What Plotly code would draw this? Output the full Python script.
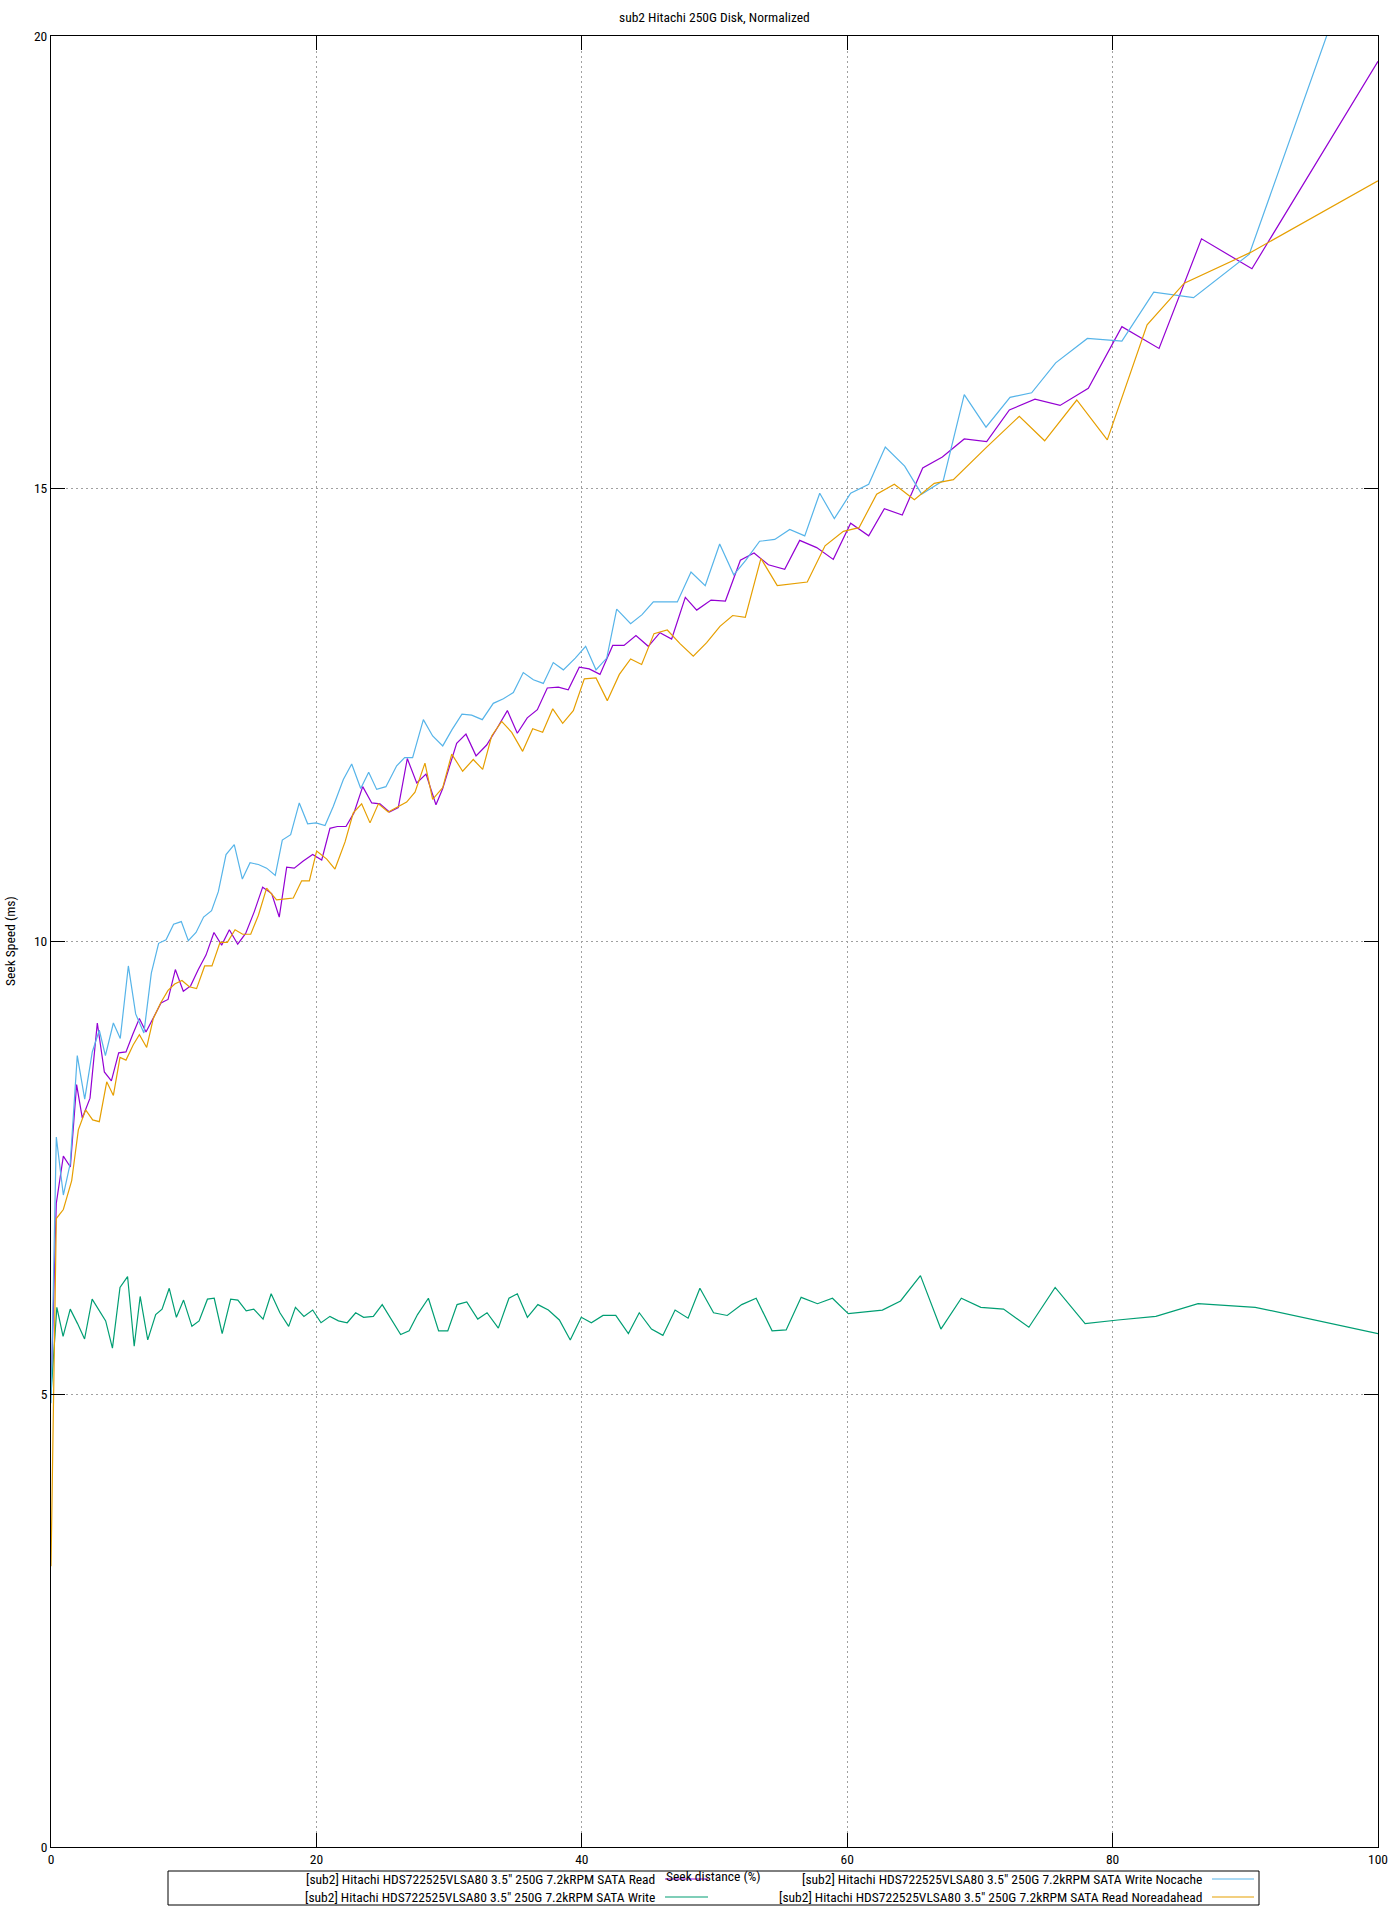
import plotly.graph_objects as go

# ---------------- data ----------------
read_x = [0, 0.4, 0.93, 1.46, 1.93, 2.36, 2.94, 3.49, 4.02, 4.55, 5.1, 5.65, 6.15, 6.66, 7.16, 7.71, 8.29, 8.82, 9.37, 9.97,
          10.52, 11.1, 11.68, 12.28, 12.86, 13.44, 14.07, 14.67, 15.32, 15.95, 16.63, 17.2, 17.76, 18.33, 19.01, 19.72, 20.4, 21.02, 21.58, 22.23,
          22.83, 23.49, 24.17, 24.79, 25.5, 26.17, 26.85, 27.56, 28.26, 29.01, 29.52, 30.57, 31.27, 32.03, 32.83, 33.59, 34.39, 35.14, 35.89, 36.65,
          37.4, 38.23, 38.98, 39.81, 40.56, 41.37, 42.33, 43.18, 44.08, 45.01, 45.89, 46.77, 47.8, 48.66, 49.74, 50.82, 51.95, 52.98, 54.06, 55.29,
          56.42, 57.7, 58.95, 60.26, 61.62, 62.8, 64.15, 65.69, 67.17, 68.82, 70.51, 72.22, 74.15, 76.04, 78.17, 80.7, 83.5, 86.7, 90.5, 100]
read_y = [5.0, 7.11, 7.63, 7.51, 8.42, 8.05, 8.27, 9.1, 8.56, 8.46, 8.77, 8.78, 8.97, 9.15, 9.0, 9.15, 9.32, 9.36, 9.69, 9.45,
          9.51, 9.69, 9.85, 10.1, 9.96, 10.13, 9.97, 10.09, 10.33, 10.6, 10.53, 10.27, 10.82, 10.81, 10.89, 10.96, 10.9, 11.25, 11.27, 11.27,
          11.42, 11.71, 11.53, 11.52, 11.43, 11.48, 12.02, 11.75, 11.85, 11.51, 11.69, 12.19, 12.29, 12.05, 12.17, 12.35, 12.55, 12.3, 12.47, 12.56,
          12.8, 12.81, 12.78, 13.03, 13.01, 12.95, 13.27, 13.27, 13.38, 13.26, 13.41, 13.34, 13.8, 13.66, 13.77, 13.76, 14.21, 14.29, 14.16, 14.11,
          14.43, 14.35, 14.22, 14.62, 14.48, 14.78, 14.71, 15.23, 15.35, 15.55, 15.52, 15.87, 15.99, 15.92, 16.11, 16.79, 16.55, 17.76, 17.43, 19.72]

nocache_x = [0, 0.4, 0.93, 1.45, 1.98, 2.54, 3.11, 3.64, 4.1, 4.7, 5.22, 5.83, 6.38, 7.0, 7.56, 8.11, 8.67, 9.24, 9.82, 10.35,
             10.93, 11.5, 12.1, 12.61, 13.19, 13.81, 14.42, 15.0, 15.63, 16.25, 16.9, 17.43, 18.06, 18.71, 19.34, 19.97, 20.65, 21.27, 22.03, 22.66,
             23.34, 23.94, 24.54, 25.24, 26.05, 26.65, 27.25, 28.06, 28.76, 29.52, 30.22, 30.97, 31.7, 32.5, 33.33, 34.09, 34.84, 35.59, 36.35, 37.1,
             37.85, 38.61, 39.51, 40.29, 41.07, 41.88, 42.63, 43.68, 44.54, 45.39, 46.3, 47.2, 48.23, 49.3, 50.39, 51.45, 52.35, 53.4, 54.54, 55.67,
             56.8, 57.93, 59.03, 60.26, 61.62, 62.87, 64.33, 65.61, 67.24, 68.82, 70.46, 72.27, 73.9, 75.71, 78.1, 80.7, 83.1, 86.1, 90.3, 100]
nocache_y = [4.9, 7.84, 7.2, 7.55, 8.74, 8.26, 8.78, 9.02, 8.74, 9.1, 8.93, 9.73, 9.2, 8.99, 9.65, 9.98, 10.02, 10.19, 10.22, 10.01,
             10.1, 10.27, 10.34, 10.55, 10.96, 11.07, 10.69, 10.87, 10.85, 10.81, 10.73, 11.12, 11.18, 11.53, 11.3, 11.31, 11.28, 11.49, 11.79, 11.96,
             11.69, 11.87, 11.68, 11.71, 11.94, 12.03, 12.03, 12.45, 12.27, 12.16, 12.34, 12.51, 12.5, 12.45, 12.63, 12.68, 12.75, 12.97, 12.89, 12.85,
             13.08, 13.0, 13.13, 13.26, 13.0, 13.13, 13.67, 13.51, 13.61, 13.75, 13.75, 13.75, 14.08, 13.93, 14.39, 14.05, 14.21, 14.42, 14.44, 14.55,
             14.48, 14.95, 14.67, 14.95, 15.05, 15.46, 15.25, 14.94, 15.09, 16.04, 15.68, 16.01, 16.06, 16.39, 16.66, 16.63, 17.17, 17.11, 17.59, 21.6]

write_x = [0, 0.44, 0.91, 1.45, 2.0, 2.53, 3.1, 3.64, 4.12, 4.63, 5.2, 5.77, 6.27, 6.72, 7.29, 7.89, 8.37, 8.91, 9.45, 9.99,
           10.62, 11.16, 11.79, 12.3, 12.9, 13.54, 14.08, 14.71, 15.28, 15.98, 16.59, 17.25, 17.91, 18.42, 19.06, 19.72, 20.35, 21.02, 21.66, 22.32,
           22.96, 23.56, 24.29, 24.96, 25.65, 26.35, 26.99, 27.62, 28.44, 29.21, 29.9, 30.6, 31.33, 32.16, 32.86, 33.71, 34.51, 35.14, 35.9, 36.69,
           37.48, 38.31, 39.13, 39.96, 40.72, 41.6, 42.56, 43.51, 44.33, 45.25, 46.11, 47.03, 48.01, 48.9, 49.93, 50.96, 52.05, 53.14, 54.34, 55.4,
           56.53, 57.76, 58.89, 60.08, 62.65, 64.02, 65.52, 67.06, 68.6, 70.07, 71.78, 73.69, 75.67, 77.93, 80.4, 83.26, 86.44, 90.75, 100]
write_y = [5.0, 5.96, 5.64, 5.94, 5.78, 5.61, 6.05, 5.93, 5.81, 5.51, 6.18, 6.30, 5.53, 6.08, 5.60, 5.88, 5.94, 6.17, 5.85, 6.04,
           5.75, 5.81, 6.05, 6.06, 5.67, 6.05, 6.04, 5.92, 5.94, 5.83, 6.11, 5.90, 5.75, 5.96, 5.86, 5.93, 5.79, 5.86, 5.81, 5.79,
           5.90, 5.85, 5.86, 5.99, 5.83, 5.66, 5.70, 5.88, 6.06, 5.70, 5.70, 5.99, 6.02, 5.83, 5.90, 5.73, 6.06, 6.11, 5.85, 5.99,
           5.93, 5.82, 5.60, 5.85, 5.79, 5.87, 5.87, 5.67, 5.90, 5.72, 5.65, 5.93, 5.84, 6.17, 5.90, 5.87, 5.99, 6.06, 5.70, 5.71,
           6.07, 6.00, 6.06, 5.89, 5.93, 6.03, 6.31, 5.72, 6.06, 5.96, 5.94, 5.74, 6.18, 5.78, 5.82, 5.86, 6.00, 5.96, 5.67]

noreadahead_x = [0, 0.4, 0.93, 1.56, 2.06, 2.61, 3.14, 3.64, 4.2, 4.7, 5.2, 5.65, 6.2, 6.66, 7.21, 7.71, 8.26, 8.82, 9.32, 9.87,
                 10.42, 10.97, 11.58, 12.13, 12.74, 13.29, 13.87, 14.44, 15.05, 15.63, 16.25, 17.0, 17.68, 18.26, 18.89, 19.47, 20.02, 20.78, 21.4, 22.16,
                 22.78, 23.41, 24.04, 24.67, 25.42, 26.17, 26.8, 27.43, 28.18, 28.76, 29.52, 30.2, 31.02, 31.82, 32.53, 33.21, 33.96, 34.72, 35.54, 36.3,
                 37.05, 37.81, 38.56, 39.36, 40.19, 41.07, 41.92, 42.83, 43.68, 44.51, 45.44, 46.44, 47.4, 48.4, 49.41, 50.41, 51.37, 52.32, 53.5, 54.73,
                 56.99, 58.33, 59.71, 60.89, 62.22, 63.55, 65.06, 66.56, 68.0, 70.51, 72.97, 74.88, 77.3, 79.6, 82.6, 85.4, 90.4, 100]
noreadahead_y = [3.1, 6.94, 7.04, 7.36, 7.92, 8.14, 8.03, 8.01, 8.45, 8.3, 8.72, 8.69, 8.86, 8.97, 8.83, 9.15, 9.32, 9.46, 9.53, 9.57,
                 9.5, 9.48, 9.73, 9.73, 9.99, 9.99, 10.13, 10.08, 10.08, 10.29, 10.59, 10.46, 10.47, 10.48, 10.67, 10.67, 11.0, 10.91, 10.8, 11.1,
                 11.42, 11.52, 11.31, 11.52, 11.43, 11.49, 11.54, 11.65, 11.97, 11.57, 11.7, 12.07, 11.88, 12.01, 11.9, 12.27, 12.43, 12.31, 12.1, 12.35,
                 12.31, 12.57, 12.41, 12.55, 12.9, 12.91, 12.66, 12.95, 13.12, 13.06, 13.4, 13.44, 13.29, 13.15, 13.3, 13.48, 13.6, 13.58, 14.23, 13.93,
                 13.97, 14.37, 14.53, 14.57, 14.94, 15.05, 14.88, 15.06, 15.1, 15.46, 15.8, 15.53, 15.98, 15.54, 16.81, 17.27, 17.61, 18.4]

series_names = [
    '[sub2] Hitachi HDS722525VLSA80 3.5" 250G 7.2kRPM SATA Read',
    '[sub2] Hitachi HDS722525VLSA80 3.5" 250G 7.2kRPM SATA Write',
    '[sub2] Hitachi HDS722525VLSA80 3.5" 250G 7.2kRPM SATA Write Nocache',
    '[sub2] Hitachi HDS722525VLSA80 3.5" 250G 7.2kRPM SATA Read Noreadahead',
]
series_colors = ["#9400d3", "#009e73", "#56b4e9", "#e69f00"]
x_ticks = [0, 20, 40, 60, 80, 100]
y_ticks = [0, 5, 10, 15, 20]

# ---------------- figure ----------------
W, H = 1400, 1920
# target plot area in window pixels: x 51..1378, y 36..1847
L, T = 51, 36
R = W - 1378
B = H - 1847
PW, PH = W - L - R, H - T - B
FONT = "Liberation Sans Narrow, Roboto Condensed, Liberation Sans, Arial, sans-serif"
FS = 13.5


def px(xp):  # window pixel -> paper x
    return (xp - L) / PW


def py(yp):  # window pixel -> paper y
    return (H - B - yp) / PH


fig = go.Figure()
data = [(read_x, read_y), (write_x, write_y), (nocache_x, nocache_y), (noreadahead_x, noreadahead_y)]
for (xs, ys), name, col in zip(data, series_names, series_colors):
    fig.add_trace(go.Scatter(x=xs, y=ys, mode="lines", name=name,
                             line=dict(color=col, width=1.2), showlegend=False))

axis_common = dict(showline=True, linecolor="black", linewidth=1, mirror="allticks",
                   ticks="inside", ticklen=14, tickcolor="black", tickwidth=1,
                   showgrid=True, gridcolor="#a0a0a0", gridwidth=1, griddash="2px,3px",
                   zeroline=False, tickfont=dict(family=FONT, size=FS, color="black"))

fig.update_xaxes(range=[0, 100], tickvals=x_ticks, ticktext=[str(v) for v in x_ticks], **axis_common)
fig.update_yaxes(range=[0, 20], tickvals=y_ticks, ticktext=[str(v) for v in y_ticks], **axis_common)

shapes = []
annotations = []

annotations.append(dict(text="sub2 Hitachi 250G Disk, Normalized", xref="paper", yref="paper",
                        x=px(715), y=py(17), xanchor="center", yanchor="middle", showarrow=False,
                        font=dict(family=FONT, size=FS, color="black")))
annotations.append(dict(text="Seek Speed (ms)", xref="paper", yref="paper", x=px(10), y=py(941),
                        textangle=-90, xanchor="center", yanchor="middle", showarrow=False,
                        font=dict(family=FONT, size=FS, color="black")))
shapes.append(dict(type="rect", xref="paper", yref="paper", x0=px(168), x1=px(1259), y0=py(1871), y1=py(1905),
                   line=dict(color="black", width=1), fillcolor="rgba(0,0,0,0)"))
leg_pos = [(657, 665, 708, 1879), (657, 665, 708, 1897), (1204, 1212, 1254, 1879), (1204, 1212, 1254, 1897)]
for (tx, s0, s1, yy), name, col in zip(leg_pos, series_names, series_colors):
    annotations.append(dict(text=name, xref="paper", yref="paper", x=px(tx), y=py(yy),
                            xanchor="right", yanchor="middle", showarrow=False,
                            font=dict(family=FONT, size=FS, color="black")))
    shapes.append(dict(type="line", xref="paper", yref="paper", x0=px(s0), x1=px(s1), y0=py(yy), y1=py(yy),
                       line=dict(color=col, width=1.2)))
annotations.append(dict(text="Seek distance (%)", xref="paper", yref="paper", x=px(713), y=py(1876),
                        xanchor="center", yanchor="middle", showarrow=False,
                        font=dict(family=FONT, size=FS, color="black")))

fig.update_layout(width=W, height=H, margin=dict(l=L, r=R, t=T, b=B, pad=0),
                  paper_bgcolor="white", plot_bgcolor="white",
                  shapes=shapes, annotations=annotations,
                  font=dict(family=FONT, size=FS, color="black"))

# remove the default 8px body margin of the page so the figure fills the window exactly
fig.write_html("out.html", config={"displayModeBar": False, "staticPlot": True},
               post_script="document.body.style.margin='0';")
